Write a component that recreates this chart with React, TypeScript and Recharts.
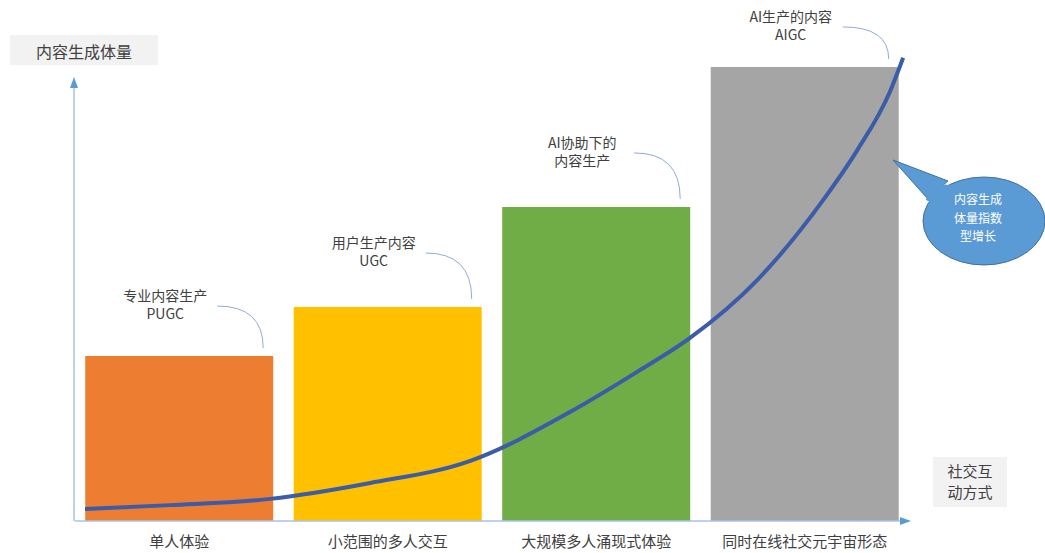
import { Bar, Cell, ComposedChart, LabelList, Line, XAxis, YAxis } from "recharts";

const CATEGORIES = ["单人体验", "小范围的多人交互", "大规模多人涌现式体验", "同时在线社交元宇宙形态"];
const VOLUMES = [34.3, 44.5, 65.3, 94.4];
const BAR_COLORS = ["#ED7D31", "#FFC000", "#70AD47", "#A5A5A5"];
const NOTES = [
  ["专业内容生产", "PUGC"],
  ["用户生产内容", "UGC"],
  ["AI协助下的", "内容生产"],
  ["AI生产的内容", "AIGC"],
];

// growth curve, x across the whole plot (0..100), y on the bar scale
const CURVE_X = [1.2, 11.4, 23.4, 35.4, 47.4, 59.4, 67.4, 73.7, 81.8, 89.7, 93.8, 97.7, 99.3];
const CURVE_Y = [2.5, 3.3, 4.6, 7.9, 12.5, 22.7, 31.0, 38.0, 50.1, 66.7, 77.1, 89.2, 96.3];

const Y_TITLE = "内容生成体量";
const X_TITLE = ["社交互", "动方式"];
const BUBBLE_TEXT = ["内容生成", "体量指数", "型增长"];

const W = 1045;
const H = 553;
const FONT = "'Noto Sans CJK SC', 'Noto Sans', sans-serif";
const TEXT_COLOR = "#404040";
const AXIS_COLOR = "#A9C4E4";
const ARROW_COLOR = "#5B9BD5";
const CURVE_COLOR = "#3B5CA8";
const NOTE_LIFT = [60, 64, 64, 50];

const barData = CATEGORIES.map((name, i) => ({ name, volume: VOLUMES[i] }));
const curveData = CURVE_X.map((x, i) => ({ x, y: CURVE_Y[i] }));

function NoteLabel(props: any) {
  const { x, y, width, value } = props;
  const i = props.index ?? VOLUMES.indexOf(value);
  const note = NOTES[i];
  if (!note) return null;
  const cx = x + width / 2 - 14;
  const y1 = y - NOTE_LIFT[i];
  const sx = cx + 52;
  const sy = y1 + 10;
  const ex = x + width - 10;
  const ey = y - 8;
  return (
    <g>
      <text x={cx} y={y1 + 5} textAnchor="middle" fontSize={14} fill={TEXT_COLOR}>
        <tspan x={cx}>{note[0]}</tspan>
        <tspan x={cx} dy={18}>{note[1]}</tspan>
      </text>
      <path d={`M${sx},${sy} Q${ex},${sy} ${ex},${ey}`} fill="none" stroke="#8FAADC" strokeWidth={1} />
    </g>
  );
}

export default function App() {
  return (
    <div style={{ position: "absolute", left: 0, top: 0, width: W, height: H, background: "#fff", fontFamily: FONT }}>
      <ComposedChart
        width={W}
        height={H}
        data={barData}
        margin={{ top: 40, right: 136, bottom: 2, left: 75 }}
        barCategoryGap="4.9%"
      >
        <XAxis
          dataKey="name"
          axisLine={{ stroke: AXIS_COLOR, strokeWidth: 1.5 }}
          tickLine={false}
          tickMargin={9}
          height={30}
          tick={{ fontSize: 15, fill: TEXT_COLOR }}
          interval={0}
        />
        <XAxis xAxisId="curve" type="number" dataKey="x" domain={[0, 100]} hide />
        <YAxis domain={[0, 100]} hide />
        <Bar dataKey="volume" isAnimationActive={false}>
          {barData.map((d, i) => (
            <Cell key={d.name} fill={BAR_COLORS[i]} />
          ))}
          <LabelList dataKey="volume" content={NoteLabel} />
        </Bar>
        <Line
          xAxisId="curve"
          data={curveData}
          dataKey="y"
          type="monotone"
          dot={false}
          stroke={CURVE_COLOR}
          strokeWidth={4}
          isAnimationActive={false}
        />
      </ComposedChart>
      <svg
        width={W}
        height={H}
        style={{ position: "absolute", left: 0, top: 0, pointerEvents: "none" }}
      >
        {/* y axis with arrow */}
        <line x1={74} y1={521} x2={74} y2={84} stroke={AXIS_COLOR} strokeWidth={1.5} />
        <polygon points="74,77 70,88 78,88" fill={ARROW_COLOR} />
        <polygon points="911,521 900,517 900,525" fill={ARROW_COLOR} />

        <rect x={10} y={35} width={148} height={30} fill="#F2F2F2" />
        <text x={84} y={51} textAnchor="middle" dominantBaseline="central" fontSize={16} fill={TEXT_COLOR}>
          {Y_TITLE}
        </text>

        <rect x={933} y={457} width={74} height={50} fill="#F2F2F2" />
        <text x={970} y={477} textAnchor="middle" fontSize={15} fill={TEXT_COLOR}>
          {X_TITLE.map((t, i) => (
            <tspan key={t} x={970} dy={i === 0 ? 0 : 21}>
              {t}
            </tspan>
          ))}
        </text>

        <ellipse cx={984} cy={221} rx={61} ry={44} fill="#5B9BD5" stroke="#41719C" strokeWidth={1} />
        <polygon points="893,160 948,181 927,198" fill="#5B9BD5" stroke="#41719C" strokeWidth={1} />
        <polygon points="928,183 950,185 934,204 926,200" fill="#5B9BD5" />
        <text x={978} y={204} textAnchor="middle" fontSize={12} fill="#fff">
          {BUBBLE_TEXT.map((t, i) => (
            <tspan key={t} x={978} dy={i === 0 ? 0 : 18.5}>
              {t}
            </tspan>
          ))}
        </text>
      </svg>
    </div>
  );
}
